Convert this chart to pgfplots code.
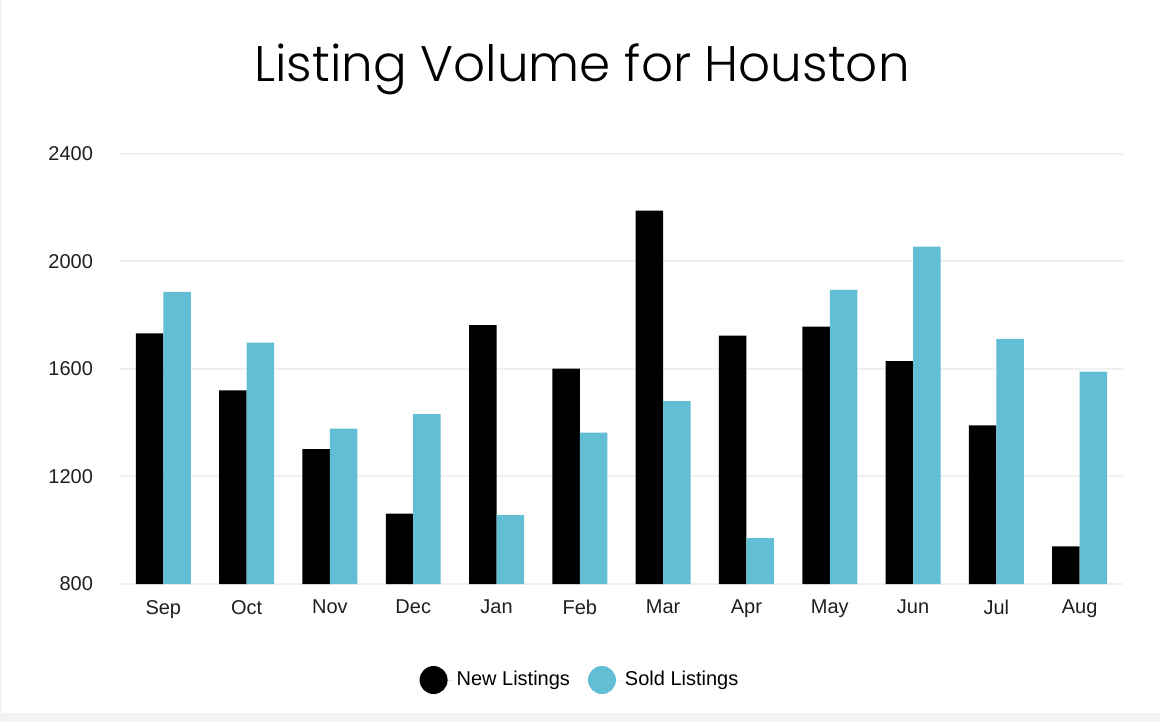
\documentclass[border=0pt]{standalone}
\usepackage{pgfplots}
\pgfplotsset{compat=1.18}
\usepackage{fontspec}
\setmainfont{Liberation Sans}
\newfontfamily\titlefont{Poppins Light}
\definecolor{sold}{HTML}{62BED4}
\definecolor{bg}{HTML}{F2F3F5}
\definecolor{gridc}{HTML}{F0F0F0}
\begin{document}
\begin{tikzpicture}
\fill[bg] (0pt,0pt) rectangle (580pt,361pt);
\fill[white] (1pt,4.5pt) rectangle (580pt,361pt);
\node[anchor=base,inner sep=0pt,font=\titlefont\fontsize{25}{30}\selectfont] at (291pt,320pt) {Listing Volume for Houston};
\begin{axis}[
  at={(60pt,69pt)}, anchor=south west,
  scale only axis, width=501.5pt, height=215pt,
  xmin=-0.52, xmax=11.52, ymin=800, ymax=2400,
  ytick={800,1200,1600,2000,2400},
  xtick={0,...,11},
  xticklabels={Sep,Oct,Nov,Dec,Jan,Feb,Mar,Apr,May,Jun,Jul,Aug},
  axis line style={draw=none},
  major tick length=0pt,
  ymajorgrids,
  major grid style={color=gridc, line width=1pt},
  tick label style={font=\fontsize{10}{12}\selectfont, color=black!88},
  yticklabel style={xshift=-10pt},
  xticklabel style={yshift=-4.5pt},
  /pgf/number format/assume math mode=true,
  /pgf/number format/1000 sep={},
  legend columns=2,
  legend style={at={(0.4596,-0.2233)}, anchor=center, draw=none, fill=none,
    font=\fontsize{10}{12}\selectfont,
    /tikz/every even column/.append style={column sep=7pt}},
  legend image code/.code={\path (0pt,0pt) -- (16.5pt,0pt); \fill[#1,draw=none] (7pt,0pt) circle (7pt);},
]
\addplot[ybar, bar width=0.33, bar shift=-0.165, fill=black, draw=none] coordinates {
(0,1733) (1,1520) (2,1302) (3,1062) (4,1763) (5,1601) (6,2189) (7,1724) (8,1758) (9,1629) (10,1390) (11,940)};
\addplot[ybar, bar width=0.33, bar shift=0.165, fill=sold, draw=none] coordinates {
(0,1887) (1,1698) (2,1378) (3,1432) (4,1056) (5,1363) (6,1480) (7,971) (8,1894) (9,2055) (10,1712) (11,1590)};
\legend{New Listings, Sold Listings}
\end{axis}
\end{tikzpicture}
\end{document}
